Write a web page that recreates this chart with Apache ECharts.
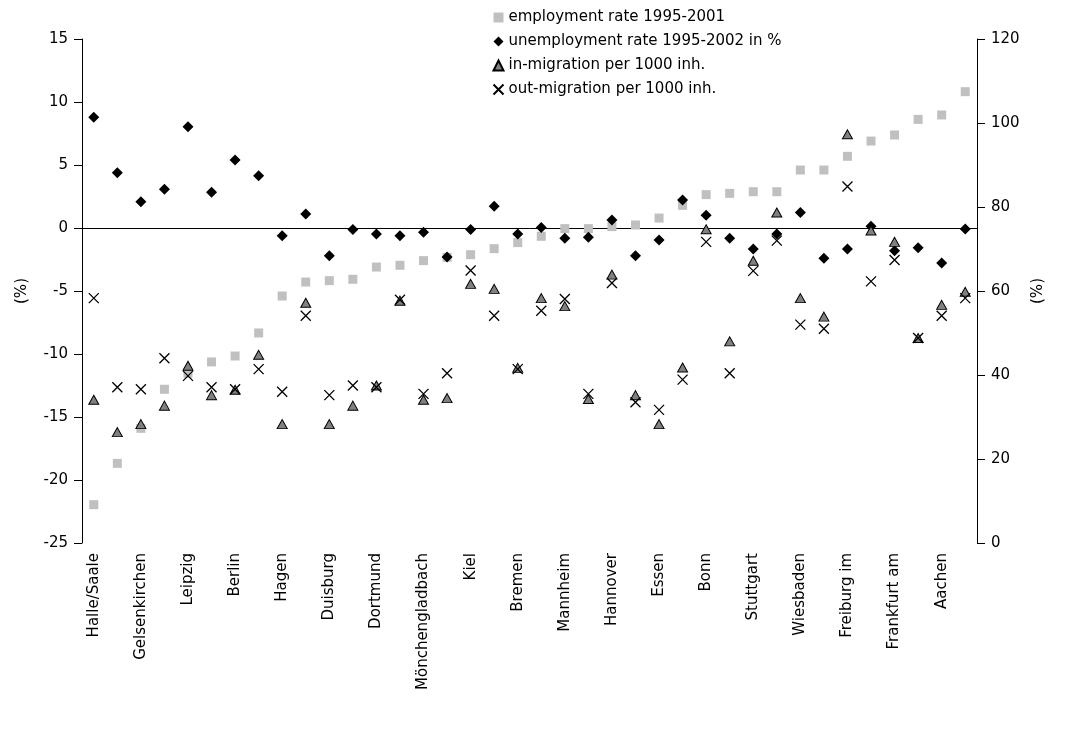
<!DOCTYPE html>
<html><head><meta charset="utf-8">
<script src="https://cdn.jsdelivr.net/npm/echarts@6/dist/echarts.min.js"></script>
<style>html,body{margin:0;background:#fff}#c{width:1070px;height:738px}</style>
</head><body><div id="c"></div>
<script>
// every other city is labelled in the source chart
const cities = ['Halle/Saale','','Gelsenkirchen','','Leipzig','','Berlin','','Hagen','','Duisburg','','Dortmund','','Mönchengladbach','','Kiel','','Bremen','','Mannheim','','Hannover','','Essen','','Bonn','','Stuttgart','','Wiesbaden','','Freiburg im','','Frankfurt am','','Aachen',''];
const employment = [-21.96,-18.68,-15.9,-12.8,-11.53,-10.63,-10.16,-8.33,-5.4,-4.29,-4.18,-4.07,-3.1,-2.96,-2.59,-2.33,-2.12,-1.64,-1.16,-0.66,-0.05,-0.05,0.11,0.24,0.79,1.8,2.65,2.75,2.88,2.88,4.6,4.6,5.69,6.9,7.38,8.62,8.97,10.82];
const unemployment = [8.78,4.39,2.09,3.07,8.04,2.83,5.4,4.15,-0.61,1.11,-2.2,-0.11,-0.48,-0.61,-0.34,-2.3,-0.11,1.72,-0.48,0.03,-0.82,-0.74,0.63,-2.2,-0.95,2.22,1.01,-0.82,-1.67,-0.48,1.24,-2.41,-1.67,0.13,-1.8,-1.56,-2.78,-0.08];
const inMigration = [34.1,26.4,28.3,32.7,42.2,35.2,36.5,44.8,28.3,57.2,28.3,32.7,37.5,57.7,34.1,34.5,61.7,60.5,41.7,58.3,56.4,34.3,63.9,35.2,28.3,41.8,74.7,48.0,67.2,78.7,58.3,53.9,97.3,74.4,71.7,48.8,56.7,59.8];
const outMigration = [58.3,37.1,36.6,44.0,39.8,37.1,36.6,41.4,36.0,54.1,35.2,37.5,37.1,57.9,35.5,40.4,64.9,54.1,41.4,55.3,58.1,35.5,61.9,33.5,31.7,38.9,71.7,40.4,64.8,72.0,52.0,51.0,84.9,62.3,67.4,48.8,54.1,58.3];

const font = 'DejaVu Sans';
const chart = echarts.init(document.getElementById('c'));
chart.setOption({
  animation: false,
  textStyle: { fontFamily: font, color: '#000' },
  grid: { left: 82, right: 93, top: 39, bottom: 195 },
  legend: {
    orient: 'vertical', left: 486, top: 5, itemGap: 9, itemWidth: 10, itemHeight: 10,
    textStyle: { fontFamily: font, fontSize: 15, color: '#000' },
    data: ['employment rate 1995-2001','unemployment rate 1995-2002 in %','in-migration per 1000 inh.','out-migration per 1000 inh.']
  },
  xAxis: [
    { type: 'category', data: cities, position: 'bottom',
      axisLine: { show: false }, axisTick: { show: false },
      axisLabel: { interval: 0, rotate: 90, fontSize: 15, fontFamily: font, color: '#000', margin: 10 } },
    { type: 'category', data: cities, position: 'bottom',
      axisLine: { onZero: true, onZeroAxisIndex: 0, lineStyle: { color: '#000' } },
      axisTick: { interval: 0, length: 8, lineStyle: { color: '#000' } },
      axisLabel: { show: false } }
  ],
  yAxis: [
    { type: 'value', min: -25, max: 15, interval: 5, name: '(%)', nameLocation: 'middle', nameGap: 52,
      nameTextStyle: { fontSize: 15, fontFamily: font, color: '#000' },
      axisLine: { show: true, onZero: false, lineStyle: { color: '#000' } },
      axisTick: { show: true, length: 8, lineStyle: { color: '#000' } },
      splitLine: { show: false },
      axisLabel: { fontSize: 15, fontFamily: font, color: '#000', margin: 14 } },
    { type: 'value', min: 0, max: 120, interval: 20, name: '(%)', nameLocation: 'middle', nameGap: 52,
      nameTextStyle: { fontSize: 15, fontFamily: font, color: '#000' },
      axisLine: { show: true, onZero: false, lineStyle: { color: '#000' } },
      axisTick: { show: true, length: 8, lineStyle: { color: '#000' } },
      splitLine: { show: false },
      axisLabel: { fontSize: 15, fontFamily: font, color: '#000', margin: 14 } }
  ],
  series: [
    { name: 'employment rate 1995-2001', type: 'scatter', data: employment, yAxisIndex: 0,
      symbol: 'rect', symbolSize: 9, itemStyle: { color: '#c0c0c0', opacity: 1 } },
    { name: 'unemployment rate 1995-2002 in %', type: 'scatter', data: unemployment, yAxisIndex: 0,
      symbol: 'diamond', symbolSize: 11, itemStyle: { color: '#000', opacity: 1 } },
    { name: 'in-migration per 1000 inh.', type: 'scatter', data: inMigration, yAxisIndex: 1,
      symbol: 'triangle', symbolSize: [10, 9], itemStyle: { color: '#808080', borderColor: '#000', borderWidth: 1, opacity: 1 } },
    { name: 'out-migration per 1000 inh.', type: 'scatter', data: outMigration, yAxisIndex: 1,
      symbol: 'path://M0,0L10,10M10,0L0,10', symbolSize: 10,
      itemStyle: { color: 'none', borderColor: '#000', borderWidth: 1.3, opacity: 1 } }
  ]
});
</script></body></html>
